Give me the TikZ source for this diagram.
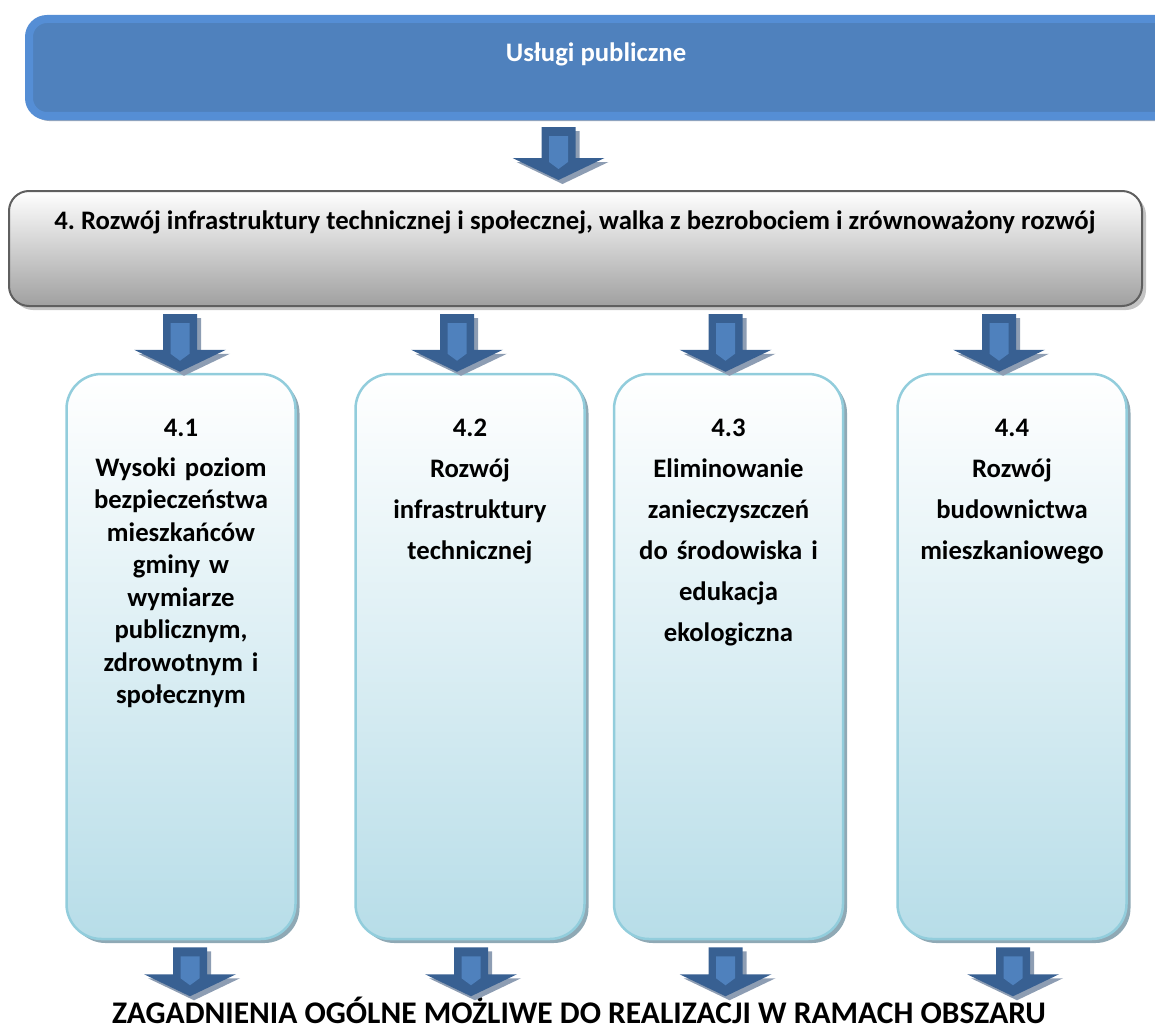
\documentclass[tikz,border=0pt]{standalone}
\usepackage{fontspec}
\setmainfont{Carlito}
\usepackage{xcolor}
\usepackage{tikz}
\usetikzlibrary{shapes, arrows, positioning, calc, shadows}
\frenchspacing

\definecolor{topblue}{HTML}{4F81BD}
\definecolor{toprim}{HTML}{558ED5}
\definecolor{topshade}{HTML}{97A7BC}
\definecolor{greyrim}{HTML}{5F5F5F}
\definecolor{greybot}{HTML}{A0A0A0}
\definecolor{greyshade}{HTML}{C4C4C4}
\definecolor{colrim}{HTML}{92CDDC}
\definecolor{colbot}{HTML}{B7DDE8}
\definecolor{colshade}{HTML}{8FA9B5}
\definecolor{arrowdark}{HTML}{386092}
\definecolor{arrowlight}{HTML}{4F81BD}
\definecolor{arrowshade}{HTML}{8D9DB3}

\tikzset{
    topbox/.style={draw=toprim, fill=topblue, line width=8pt, rounded corners=18pt,
        minimum width=1157pt, minimum height=97pt,
        drop shadow={shadow xshift=2pt, shadow yshift=-5pt, fill=topshade, opacity=1}},
    goalbox/.style={draw=greyrim, line width=2pt, rounded corners=20pt,
        top color=white, bottom color=greybot,
        minimum width=1133pt, minimum height=115pt,
        drop shadow={shadow xshift=4pt, shadow yshift=-4pt, fill=greyshade, opacity=1}},
    colbox/.style={draw=colrim, line width=2.5pt, rounded corners=35pt,
        top color=white, bottom color=colbot,
        minimum width=229pt, minimum height=565pt,
        drop shadow={shadow xshift=4pt, shadow yshift=-4pt, fill=colshade, opacity=1}},
    headtext/.style={font=\bfseries\fontsize{26.7}{32}\selectfont, inner sep=0pt},
    coltext/.style={font=\bfseries\fontsize{26.7}{41}\selectfont, align=center,
        text width=220pt, inner sep=0pt},
    bottext/.style={font=\bfseries\fontsize{31.5}{36}\selectfont, inner sep=0pt}
}

% block arrow: shaft below #1, tip at #2
\newcommand{\blkarrow}[2]{%
    \coordinate (bt) at (#2);
    \coordinate (bs) at ($(bt |- #1)+(0,7)$);
    \fill[arrowdark, drop shadow={shadow xshift=4pt, shadow yshift=-4pt, fill=arrowshade, opacity=1}]
        ($(bs)+(-17,0)$) -- ($(bt)+(-17,-22)$) -- ($(bt)+(-46,-22)$) -- (bt)
        -- ($(bt)+(46,-22)$) -- ($(bt)+(17,-22)$) -- ($(bs)+(17,0)$) -- cycle;
    \fill[arrowlight] ($(bs)+(-9.5,9)$) -- ($(bt)+(-9.5,-18)$) -- ($(bt)+(0,-11)$)
        -- ($(bt)+(9.5,-18)$) -- ($(bs)+(9.5,9)$) -- cycle;
}

\begin{document}
\begin{tikzpicture}[x=1pt, y=-1pt]
    \useasboundingbox (0,0) rectangle (1155,1030);

    % Top
    \node[topbox] (uslugi) at (607.5,67.5) {};
    \node[headtext, white, anchor=base] (uslugi-t) at (596,62) {Usługi publiczne};

    % Goal
    \node[goalbox] (cel) at (575.5,248.5) {};
    \node[headtext, anchor=base] (cel-t) at (575,229) {4. Rozwój infrastruktury technicznej i społecznej, walka z bezrobociem i zrównoważony rozwój};

    % Columns
    \node[colbox] (c1) at (181,656.5) {};
    \node[colbox] (c2) at (470,656.5) {};
    \node[colbox] (c3) at (728.5,656.5) {};
    \node[colbox] (c4) at (1012,656.5) {};

    \node[coltext, font=\bfseries\fontsize{26.7}{32.5}\selectfont, below=46pt of c1.north] (t1)
        {4.1\\[7.5pt] Wysoki poziom\\ bezpieczeństwa\\ mieszkańców\\ gminy w\\ wymiarze\\ publicznym,\\ zdrowotnym i\\ społecznym};
    \node[coltext, below=46pt of c2.north] (t2) {4.2\\ Rozwój\\ infrastruktury\\ technicznej};
    \node[coltext, below=46pt of c3.north] (t3) {4.3\\ Eliminowanie\\ zanieczyszczeń\\ do środowiska i\\ edukacja\\ ekologiczna};
    \node[coltext, below=46pt of c4.north] (t4) {4.4\\ Rozwój\\ budownictwa\\ mieszkaniowego};

    % Bottom
    \node[bottext, anchor=base] (zag) at (579,1023) {ZAGADNIENIA OGÓLNE MOŻLIWE DO REALIZACJI W RAMACH OBSZARU};

    % Arrows
    \blkarrow{uslugi.south}{$(cel.north)+(-17,-10)$}
    \foreach \c/\dx in {c1/-1, c2/-13, c3/-3, c4/-13}
        {\blkarrow{cel.south}{$(\c.north)+(\dx,-1)$}}
    \foreach \c/\dx in {c1/9, c2/1, c3/-3, c4/1}
        {\blkarrow{\c.south}{$(\c.south)+(\dx,56)$}}
\end{tikzpicture}
\end{document}
